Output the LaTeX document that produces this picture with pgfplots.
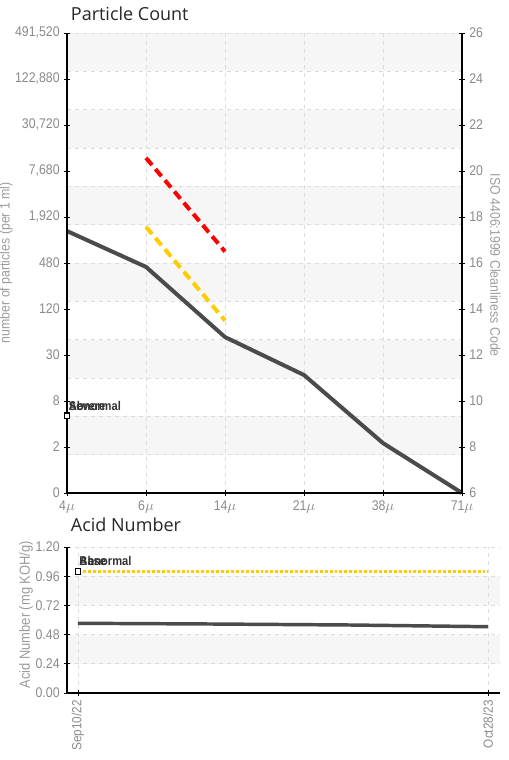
\documentclass[border=0pt]{standalone}
\usepackage{pgfplots}
\pgfplotsset{compat=1.18}
\usepackage{fontspec}
\setmainfont{Liberation Sans}[FakeStretch=0.88]
\newfontfamily\titlefont{Open Sans}
\definecolor{tick}{HTML}{8A8A8A}
\definecolor{lab}{HTML}{9C9C9C}
\definecolor{band}{HTML}{F6F6F6}
\definecolor{gridc}{HTML}{DCDCDC}
\definecolor{ser}{HTML}{4B4B4B}
\definecolor{alarm}{HTML}{FFCC00}
\definecolor{sev}{HTML}{FF0000}

\pgfplotsset{
  every axis/.append style={
    scale only axis, clip=false, axis on top,
    /pgf/number format/assume math mode=true,
    tick label style={font=\fontsize{10.5}{11}\selectfont, text=tick},
    axis line style={-, black, line width=0.8pt},
    major tick length=4pt, tick align=center,
    tick style={black, line width=0.6pt},
  },
}
\tikzset{
  grd/.style={gridc, line width=0.6pt, dash pattern=on 3pt off 3pt},
  legtxt/.style={anchor=base west, inner sep=0pt, text=black!80,
    font=\fontsize{9.5}{10}\selectfont\bfseries},
}

\begin{document}
\begin{tikzpicture}
\useasboundingbox (0,0) rectangle (381pt,-570pt);

% ---- Particle Count ----
\begin{axis}[at={(50.25pt,-369.75pt)}, anchor=south west,
  width=296.25pt, height=345pt,
  xmin=0, xmax=5, ymin=6, ymax=26,
  axis x line*=bottom, axis y line*=left,
  xtick={0,...,5},
  xticklabels={4$\mu$,6$\mu$,14$\mu$,21$\mu$,38$\mu$,71$\mu$},
  ytick={6,8,...,26},
  yticklabels={0,2,8,30,120,480,{1,920},{7,680},{30,720},{122,880},{491,520}},
]
\pgfplotsinvokeforeach{1,3,5,7,9,11}{
  \fill[band] (axis cs:0,{6+#1*5/3}) rectangle (axis cs:5,{6+(#1+1)*5/3});
}
\pgfplotsinvokeforeach{1,2,3,4,5,6,7,8,9,10,11,12}{
  \draw[grd] (axis cs:0,{6+#1*5/3}) -- (axis cs:5,{6+#1*5/3});
}
\pgfplotsinvokeforeach{1,2,3,4}{
  \draw[grd] (axis cs:#1,6) -- (axis cs:#1,26);
}
\addplot[ser, line width=3pt, line join=round] coordinates {
  (0,17.39) (1,15.83) (2,12.78) (3,11.13) (4,8.17) (5,6)
};
\addplot[sev, line width=3pt, dash pattern=on 7pt off 4pt] coordinates {
  (1,20.57) (2,16.5)
};
\addplot[alarm, line width=3pt, dash pattern=on 7pt off 4pt] coordinates {
  (1,17.57) (2,13.5)
};
\addplot[only marks, mark=square*, mark size=2.2pt,
  mark options={fill=white, draw=black, line width=0.8pt}] coordinates {(0,9.35)};
\node[legtxt] at (axis cs:0.02,9.57) {Abnormal};
\node[legtxt] at (axis cs:0.02,9.57) {Severe};
\end{axis}

\begin{axis}[at={(50.25pt,-369.75pt)}, anchor=south west,
  width=296.25pt, height=345pt,
  xmin=0, xmax=5, ymin=6, ymax=26,
  axis x line=none, axis y line*=right,
  ytick={6,8,...,26},
]
\end{axis}

\node[rotate=90, text=lab, font=\fontsize{10.5}{11}\selectfont] at (4.5pt,-197pt) {number of particles (per 1 ml)};
\node[rotate=-90, text=lab, font=\fontsize{10.5}{11}\selectfont] at (371.5pt,-199pt) {ISO 4406:1999 Cleanliness Code};
\node[anchor=base west, inner sep=0pt, text=black!85, font=\titlefont\fontsize{13.5}{14}\selectfont] at (53pt,-15pt) {Particle Count};

% ---- Acid Number ----
\begin{axis}[at={(50.25pt,-519.75pt)}, anchor=south west,
  width=324.75pt, height=109.5pt,
  xmin=-0.0268, xmax=1.0293, ymin=0, ymax=1.2,
  axis x line*=bottom, axis y line*=left,
  xtick={0,1}, xticklabels={Sep10/22,Oct28/23},
  xticklabel style={rotate=90, anchor=east, font=\fontsize{10}{11}\selectfont},
  ytick={0,0.24,0.48,0.72,0.96,1.2},
  yticklabels={0.00,0.24,0.48,0.72,0.96,1.20},
]
\pgfplotsinvokeforeach{0.24,0.72}{
  \fill[band] (axis cs:-0.0268,#1) rectangle (axis cs:1.0293,{#1+0.24});
}
\pgfplotsinvokeforeach{0.24,0.48,0.72,0.96,1.2}{
  \draw[grd] (axis cs:-0.0268,#1) -- (axis cs:1.0293,#1);
}
\pgfplotsinvokeforeach{0,1}{
  \draw[grd] (axis cs:#1,0) -- (axis cs:#1,1.2);
}
\addplot[ser, line width=2.6pt] coordinates {
  (0,0.573) (0.334,0.567) (0.663,0.559) (1,0.545)
};
\addplot[alarm, line width=2.2pt, dash pattern=on 2.2pt off 1.5pt] coordinates {
  (0,1) (1,1)
};
\addplot[only marks, mark=square*, mark size=2.2pt,
  mark options={fill=white, draw=black, line width=0.8pt}] coordinates {(0,1)};
\node[legtxt] at (axis cs:0.003,1.044) {Abnormal};
\node[legtxt] at (axis cs:0.003,1.044) {Base};
\end{axis}

\node[rotate=90, text=lab, font=\fontsize{11}{12}\selectfont] at (19.5pt,-461pt) {Acid Number (mg KOH/g)};
\node[anchor=base west, inner sep=0pt, text=black!85, font=\titlefont\fontsize{13.5}{14}\selectfont] at (53pt,-398.5pt) {Acid Number};
\end{tikzpicture}
\end{document}
